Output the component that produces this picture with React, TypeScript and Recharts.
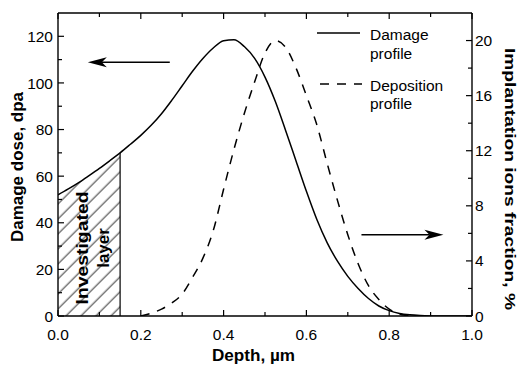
import React from "react"
import { ComposedChart, Line, Area, XAxis, YAxis, ReferenceLine, ReferenceArea, Legend, Label } from "recharts"

const FONT = '"Liberation Sans", Arial, Helvetica, sans-serif'

// depth grid, um
const depth = [
  0, 0.025, 0.05, 0.075, 0.1, 0.125, 0.15, 0.175, 0.2, 0.225,
  0.25, 0.275, 0.3, 0.325, 0.35, 0.375, 0.4, 0.425, 0.45, 0.475,
  0.5, 0.525, 0.55, 0.575, 0.6, 0.625, 0.65, 0.675, 0.7, 0.725,
  0.75, 0.775, 0.8, 0.825, 0.85, 0.875, 0.9, 0.925, 0.95, 0.975, 1.0,
]

// damage dose, dpa (left axis)
const damage = [
  52, 54.5, 57.2, 60.2, 63.3, 66.6, 70, 73.7, 77.5, 81.8,
  86.8, 92.6, 98.8, 105, 110.5, 115, 118.1, 118.5, 115.6, 110.5,
  102.5, 92, 79.5, 66.5, 53.5, 41.5, 31.5, 23.5, 17, 11.8,
  7.5, 4.3, 2.3, 1.1, 0.5, 0.2, 0.05, 0, 0, 0, 0,
]

// implanted ions fraction, % (right axis)
const deposition = [
  null, null, null, null, null, null, null, null, 0, 0.2,
  0.5, 0.95, 1.6, 2.8, 4.2, 6.2, 9.2, 12.1, 14.7, 17.0,
  19.1, 20.0, 19.5, 18.0, 16.0, 13.9, 11.1, 8.4, 5.9, 3.8,
  2.2, 1.2, 0.5, 0.15, 0, null, null, null, null, null, null,
]

const LAYER = 0.15
const LAYER_TOP = 70

const depthTicks = [0, 0.1, 0.2, 0.3, 0.4, 0.5, 0.6, 0.7, 0.8, 0.9, 1.0]
const doseTicks = [0, 10, 20, 30, 40, 50, 60, 70, 80, 90, 100, 110, 120]
const fracTicks = [0, 2, 4, 6, 8, 10, 12, 14, 16, 18, 20]

const rows = depth.map((d, i) => ({
  depth: d,
  damage: damage[i],
  deposition: deposition[i],
  layer: d <= LAYER + 1e-9 ? damage[i] : null,
}))

const isMajorDepth = (v: number) => Math.round(v * 10) % 2 === 0

function BottomTick({ x, y, payload }: any) {
  const major = isMajorDepth(payload.value)
  return (
    <g>
      <line x1={x} y1={y} x2={x} y2={y - (major ? 6 : 4)} stroke="#000" strokeWidth={1.2} />
      {major && (
        <text x={x} y={y + 24} textAnchor="middle" fontSize={15.5} fontFamily={FONT} fill="#000">
          {payload.value.toFixed(1)}
        </text>
      )}
    </g>
  )
}

function TopTick({ x, y, payload }: any) {
  const major = isMajorDepth(payload.value)
  return <line x1={x} y1={y} x2={x} y2={y + (major ? 6 : 4)} stroke="#000" strokeWidth={1.2} />
}

function LeftTick({ x, y, payload }: any) {
  const major = payload.value % 20 === 0
  return (
    <g>
      <line x1={x} y1={y} x2={x + (major ? 6 : 4)} y2={y} stroke="#000" strokeWidth={1.2} />
      {major && (
        <text x={x - 5} y={y} dy="0.36em" textAnchor="end" fontSize={15.5} fontFamily={FONT} fill="#000">
          {payload.value}
        </text>
      )}
    </g>
  )
}

function RightTick({ x, y, payload }: any) {
  const major = payload.value % 4 === 0
  return (
    <g>
      <line x1={x} y1={y} x2={x - (major ? 6 : 4)} y2={y} stroke="#000" strokeWidth={1.2} />
      {major && (
        <text x={x + 3} y={y} dy="0.36em" textAnchor="start" fontSize={15.5} fontFamily={FONT} fill="#000">
          {payload.value}
        </text>
      )}
    </g>
  )
}

const LeftTitle = ({ viewBox }: any) => {
  const cx = viewBox.x + 17
  const cy = viewBox.y + viewBox.height / 2 + 2.5
  return (
    <text x={cx} y={cy} transform={`rotate(-90 ${cx} ${cy})`} textAnchor="middle" dominantBaseline="central"
      fontWeight="bold" fontSize={16} fontFamily={FONT} textLength={150} lengthAdjust="spacingAndGlyphs">
      Damage dose, dpa
    </text>
  )
}

const RightTitle = ({ viewBox }: any) => {
  const cx = viewBox.x + 38
  const cy = viewBox.y + viewBox.height / 2 + 14.5
  return (
    <text x={cx} y={cy} transform={`rotate(90 ${cx} ${cy})`} textAnchor="middle" dominantBaseline="central"
      fontWeight="bold" fontSize={15.5} fontFamily={FONT} textLength={262} lengthAdjust="spacingAndGlyphs">
      Implantation ions fraction, %
    </text>
  )
}

const BottomTitle = ({ viewBox }: any) => {
  const cx = viewBox.x + viewBox.width / 2 - 11.5
  return (
    <text x={cx} y={viewBox.y + 45} textAnchor="middle" fontWeight="bold" fontSize={16} fontFamily={FONT}
      textLength={83} lengthAdjust="spacingAndGlyphs">
      Depth, µm
    </text>
  )
}

const LayerLabel = ({ viewBox }: any) => {
  const cx = viewBox.x + viewBox.width / 2 + 3.8
  const cy = viewBox.y + viewBox.height - 68
  return (
    <g transform={`translate(${cx} ${cy}) rotate(-90)`}>
      <text x={0} y={-10.5} textAnchor="middle" dominantBaseline="central" fontWeight="bold" fontSize={17}
        fontFamily={FONT} textLength={113} lengthAdjust="spacingAndGlyphs">
        Investigated
      </text>
      <text x={0} y={10.5} textAnchor="middle" dominantBaseline="central" fontWeight="bold" fontSize={17}
        fontFamily={FONT}>
        layer
      </text>
    </g>
  )
}

// horizontal arrow with a notched head
const ArrowShape = (props: any) => {
  const { x1, y1, x2, y2 } = props
  const dir = Math.sign(x2 - x1)
  const len = 19
  const half = 5
  const notch = 5
  const bx = x2 - dir * len
  return (
    <g>
      <line x1={x1} y1={y1} x2={bx + dir * notch} y2={y2} stroke="#000" strokeWidth={1.5} />
      <polygon points={`${x2},${y2} ${bx},${y2 - half} ${bx + dir * notch},${y2} ${bx},${y2 + half}`} fill="#000" />
    </g>
  )
}

const LegendBox = () => (
  <svg width={130} height={95} style={{ display: "block", overflow: "visible" }}>
    <line x1={2} y1={13} x2={45} y2={13} stroke="#000" strokeWidth={1.5} />
    <text x={55} y={19.5} fontSize={15.5} fontFamily={FONT}>Damage</text>
    <text x={55} y={39} fontSize={15.5} fontFamily={FONT}>profile</text>
    <line x1={5} y1={64} x2={47} y2={64} stroke="#000" strokeWidth={1.5} strokeDasharray="9 8" />
    <text x={55} y={71} fontSize={15.5} fontFamily={FONT}>Deposition</text>
    <text x={55} y={89} fontSize={15.5} fontFamily={FONT}>profile</text>
  </svg>
)

export default function App() {
  const axisLine = { stroke: "#000", strokeWidth: 1.4 }
  return (
    <div style={{ position: "absolute", left: 0, top: 0, background: "#fff" }}>
      <ComposedChart width={519} height={365} data={rows} margin={{ top: 0, right: 0, bottom: 0, left: 0 }}>
        <defs>
          <pattern id="hatch" patternUnits="userSpaceOnUse" width="10.6" height="10.6" patternTransform="rotate(45)">
            <line x1="5" y1="0" x2="5" y2="10.6" stroke="#000" strokeWidth="0.8" />
          </pattern>
        </defs>
        <XAxis xAxisId="bottom" dataKey="depth" type="number" domain={[0, 1]} ticks={depthTicks} interval={0}
          height={49} tickSize={0} tickMargin={0} tick={<BottomTick />} tickLine={false} axisLine={axisLine}
          allowDataOverflow>
          <Label content={<BottomTitle />} />
        </XAxis>
        <XAxis xAxisId="top" orientation="top" dataKey="depth" type="number" domain={[0, 1]} ticks={depthTicks}
          interval={0} height={13} tickSize={0} tickMargin={0} tick={<TopTick />} tickLine={false} axisLine={axisLine}
          allowDataOverflow />
        <YAxis yAxisId="left" type="number" domain={[0, 130]} ticks={doseTicks} interval={0} width={58}
          tickSize={0} tickMargin={0} tick={<LeftTick />} tickLine={false} axisLine={axisLine} allowDataOverflow>
          <Label content={<LeftTitle />} />
        </YAxis>
        <YAxis yAxisId="right" orientation="right" type="number" domain={[0, 22]} ticks={fracTicks} interval={0}
          width={47} tickSize={0} tickMargin={0} tick={<RightTick />} tickLine={false} axisLine={axisLine}
          allowDataOverflow>
          <Label content={<RightTitle />} />
        </YAxis>

        <Area xAxisId="bottom" yAxisId="left" dataKey="layer" type="monotone" fill="url(#hatch)" fillOpacity={1}
          stroke="none" isAnimationActive={false} activeDot={false} dot={false} />
        <ReferenceLine xAxisId="bottom" yAxisId="left" segment={[{ x: LAYER, y: 0 }, { x: LAYER, y: LAYER_TOP }]}
          stroke="#000" strokeWidth={1.2} />
        <ReferenceArea xAxisId="bottom" yAxisId="left" x1={0} x2={LAYER} y1={0} y2={LAYER_TOP} fill="none"
          fillOpacity={0} stroke="none" label={<LayerLabel />} />

        <Line xAxisId="bottom" yAxisId="left" dataKey="damage" type="monotone" stroke="#000" strokeWidth={1.5}
          dot={false} activeDot={false} isAnimationActive={false} />
        <Line xAxisId="bottom" yAxisId="right" dataKey="deposition" type="monotone" stroke="#000" strokeWidth={1.5}
          strokeDasharray="9 8" dot={false} activeDot={false} isAnimationActive={false} />

        <ReferenceLine xAxisId="bottom" yAxisId="left" segment={[{ x: 0.27, y: 108.9 }, { x: 0.072, y: 108.9 }]}
          shape={ArrowShape} />
        <ReferenceLine xAxisId="bottom" yAxisId="right" segment={[{ x: 0.733, y: 5.9 }, { x: 0.931, y: 5.9 }]}
          shape={ArrowShape} />

        <Legend layout="vertical" align="center" verticalAlign="middle" content={<LegendBox />}
          wrapperStyle={{ position: "absolute", left: 315, top: 20, width: 130, height: 95 }} />
      </ComposedChart>
    </div>
  )
}
